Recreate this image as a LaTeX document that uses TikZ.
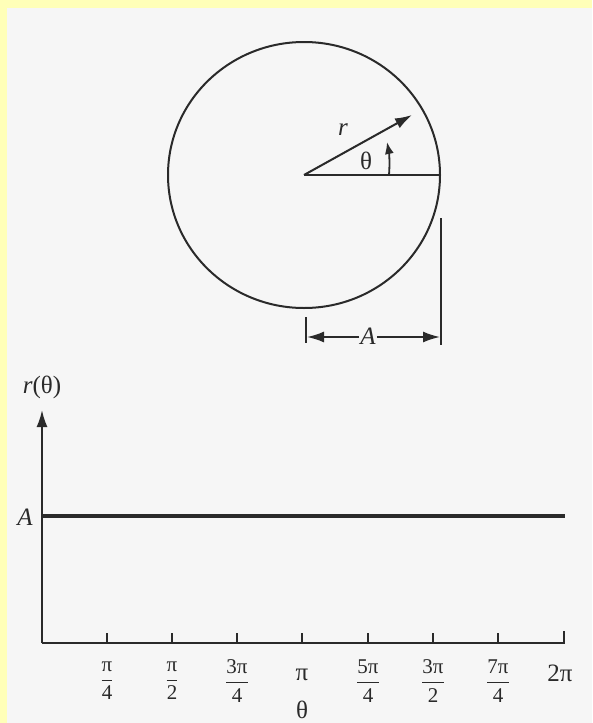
\documentclass[tikz,border=0pt]{standalone}
\usepackage{fontspec}
\usepackage{amsmath}
\setmainfont{Liberation Serif}
\usetikzlibrary{arrows.meta}
\definecolor{yellowbg}{HTML}{FFFFB8}
\definecolor{graybg}{HTML}{F6F6F6}
\definecolor{ink}{HTML}{2A2A2A}
\begin{document}
\begin{tikzpicture}[x=1pt,y=-1pt,
  ln/.style={line width=2pt, draw=ink},
  tip/.style={-{Latex[length=17pt,width=11pt]}},
  lbl/.style={font=\fontsize{25}{28}\selectfont, inner sep=0pt, text=ink},
  frc/.style={font=\fontsize{21}{24}\selectfont, inner sep=0pt, text=ink},
  ilbl/.style={font=\fontsize{25}{28}\selectfont\itshape, inner sep=0pt, text=ink}]
\fill[yellowbg] (0,0) rectangle (592,723);
\fill[graybg] (7,8) rectangle (592,723);
\useasboundingbox (0,0) rectangle (592,723);
% circle
\coordinate (c) at (304,175);
\coordinate (rim) at (440,175);
\coordinate (rtip) at (412,115);
\draw[ln] (c) ellipse [x radius=136, y radius=133];
\draw[ln] (c) -- (rim);
\draw[ln, tip] (c) -- (rtip);
\node[ilbl] (rl) at (343,130) {r};
\node[lbl] (tl) at (366,161) {θ};
\coordinate (as) at (389,175);
\coordinate (ae) at (387,142);
\draw[line width=1.8pt, draw=ink, -{Latex[length=12pt,width=9pt]}] (as) .. controls (390,163) and (389,152) .. (ae);
% dimension A
\coordinate (v1) at (441,218);
\coordinate (v2) at (441,345);
\coordinate (t1) at (306,317);
\coordinate (t2) at (306,343);
\draw[ln] (v1) -- (v2);
\draw[ln] (t1) -- (t2);
\node[ilbl] (Ad) at (368,336) {A};
\coordinate (al) at (307,337);
\coordinate (ar) at (440,337);
\draw[line width=1.8pt, draw=ink, tip] (Ad.west) ++(-1,1) -- (al);
\draw[line width=1.8pt, draw=ink, tip] (Ad.east) ++(1,1) -- (ar);
% graph
\coordinate (o) at (42,643);
\coordinate (ytop) at (42,410);
\coordinate (xend) at (564,643);
\coordinate (xendt) at (564,631);
\coordinate (ha) at (42,516);
\coordinate (hb) at (565,516);
\draw[ln, tip] (o) -- (ytop);
\draw[ln] (o) -- (xend) -- (xendt);
\draw[line width=3.8pt, draw=ink] (ha) -- (hb);
\node[lbl] (rt) at (42,387) {\textit{r}(θ)};
\node[ilbl] (Al) at (25,517) {A};
\foreach \x in {107,172,237,302,368,433,498}
  \draw[ln] (\x,643) -- (\x,633);
\node[frc] (l1) at (107,681) {\(\dfrac{\text{π}}{\text{4}}\)};
\node[frc] (l2) at (172,681) {\(\dfrac{\text{π}}{\text{2}}\)};
\node[frc] (l3) at (237,681) {\(\dfrac{\text{3π}}{\text{4}}\)};
\node[lbl] (l4) at (302,675) {π};
\node[frc] (l5) at (368,681) {\(\dfrac{\text{5π}}{\text{4}}\)};
\node[frc] (l6) at (433,681) {\(\dfrac{\text{3π}}{\text{2}}\)};
\node[frc] (l7) at (498,681) {\(\dfrac{\text{7π}}{\text{4}}\)};
\node[lbl] (l8) at (560,673) {2π};
\node[lbl] (th) at (302,710) {θ};
\end{tikzpicture}
\end{document}
